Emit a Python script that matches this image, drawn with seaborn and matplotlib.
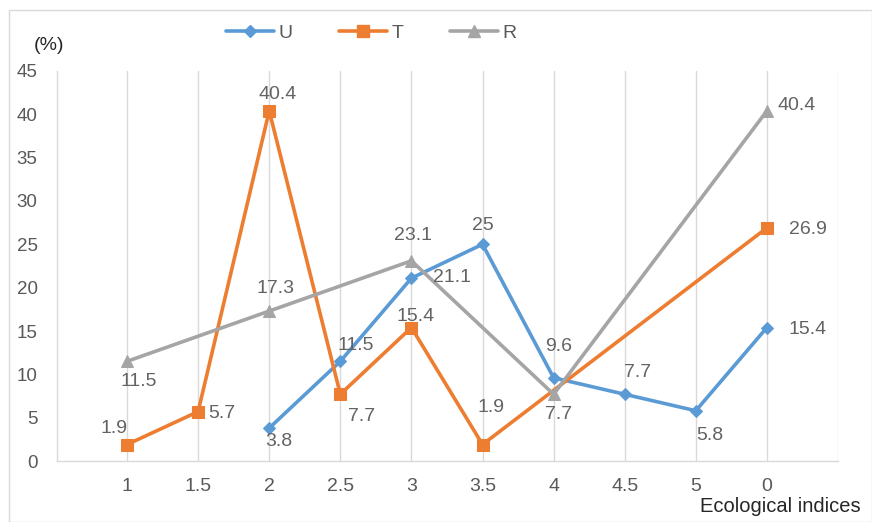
import numpy as np
import pandas as pd
import matplotlib
matplotlib.use("Agg")
import matplotlib.pyplot as plt
from matplotlib.patches import Rectangle
from matplotlib.lines import Line2D
import seaborn as sns

# Ecological index categories (x axis) and share of samples (%) per group
categories = ["1", "1.5", "2", "2.5", "3", "3.5", "4", "4.5", "5", "0"]
u_values = [np.nan, np.nan, 3.8, 11.5, 21.1, 25, 9.6, 7.7, 5.8, 15.4]
t_values = [1.9, 5.7, 40.4, 7.7, 15.4, 1.9, np.nan, np.nan, np.nan, 26.9]
r_values = [11.5, np.nan, 17.3, np.nan, 23.1, np.nan, 7.7, np.nan, np.nan, 40.4]
y_ticks = [0, 5, 10, 15, 20, 25, 30, 35, 40, 45]

series = {"U": u_values, "T": t_values, "R": r_values}
colors = {"U": "#5B9BD5", "T": "#ED7D31", "R": "#A5A5A5"}
markers = {"U": "D", "T": "s", "R": "^"}
marker_sizes = {"U": 6.5, "T": 8.5, "R": 9}

rows = []
for name, vals in series.items():
    for i, v in enumerate(vals):
        if not np.isnan(v):
            rows.append({"pos": i, "value": v, "group": name})
df = pd.DataFrame(rows)

# label offsets in pixels (dx, dy) relative to each point
label_offsets = {
    "U": [None, None, (10, -13), (15, 16), (41, 1), (0, 19), (5, 31), (13, 22), (14, -25), (41, -2)],
    "T": [(-13, 16), (24, -2), (8, 16), (21, -22), (4, 11), (8, 37), None, None, None, (41, -2)],
    "R": [(12, -20), None, (6, 23), None, (2, 25), None, (5, -20), None, None, (30, 5)],
}

sns.set_theme(style="white")
plt.rcParams["font.family"] = ["Liberation Sans", "DejaVu Sans"]

fig = plt.figure(figsize=(8.72, 5.22), dpi=100)
ax = fig.add_axes([57 / 872, 1 - 461 / 522, (838 - 57) / 872, (461 - 71) / 522])

for name in series:
    sub = df[df["group"] == name]
    sns.lineplot(data=sub, x="pos", y="value", ax=ax, color=colors[name],
                 marker=markers[name], markersize=marker_sizes[name],
                 markeredgecolor=colors[name], linewidth=2.6, label=name,
                 sort=False, legend=False, zorder=3)

label_color = "#636363"
for name, vals in series.items():
    for i, v in enumerate(vals):
        off = label_offsets[name][i]
        if off is None or np.isnan(v):
            continue
        ax.annotate(f"{v:g}", (i, v), xytext=off, textcoords="offset pixels",
                    ha="center", va="center", fontsize=14, color=label_color,
                    zorder=5)

ax.set_xlim(-0.985, 10)
ax.set_ylim(0, 45)
ax.set_xticks(range(len(categories)))
ax.set_xticklabels(categories)
ax.set_yticks(y_ticks)
ax.tick_params(axis="x", length=0, pad=12, labelsize=14, labelcolor="#595959")
ax.tick_params(axis="y", length=0, pad=14, labelsize=13.5, labelcolor="#595959")
ax.set_xlabel("")
ax.set_ylabel("")

# vertical gridlines at each category and at the right edge
for x in list(range(len(categories))) + [10]:
    ax.axvline(x, color="#D9D9D9", linewidth=1.0, zorder=0)
for side in ["top", "right"]:
    ax.spines[side].set_visible(False)
for side in ["left", "bottom"]:
    ax.spines[side].set_color("#D9D9D9")
    ax.spines[side].set_linewidth(1.0)

# legend across the top
handles = [Line2D([0], [0], color=colors[n], marker=markers[n], markersize=marker_sizes[n],
                  markeredgecolor=colors[n], linewidth=2.6) for n in series]
leg = fig.legend(handles, list(series.keys()), loc="center", ncol=3,
                 bbox_to_anchor=(371 / 872, 1 - 33 / 522), frameon=False,
                 fontsize=14, handlelength=2.5, columnspacing=2.4, handletextpad=0.2)
for t in leg.get_texts():
    t.set_color("#595959")

fig.text(49 / 872, 1 - 46 / 522, "(%)", ha="center", va="center", fontsize=14, color="#262626")
fig.text(780 / 872, 1 - 507 / 522, "Ecological indices", ha="center", va="center",
         fontsize=14.5, color="#262626")

# chart-area border
fig.patches.append(Rectangle((9 / 872, 0.5 / 522), (872 - 9.5) / 872, (522 - 10.5) / 522,
                             transform=fig.transFigure, fill=False,
                             edgecolor="#D9D9D9", linewidth=1.0))

fig.savefig("out.png", dpi=100)
